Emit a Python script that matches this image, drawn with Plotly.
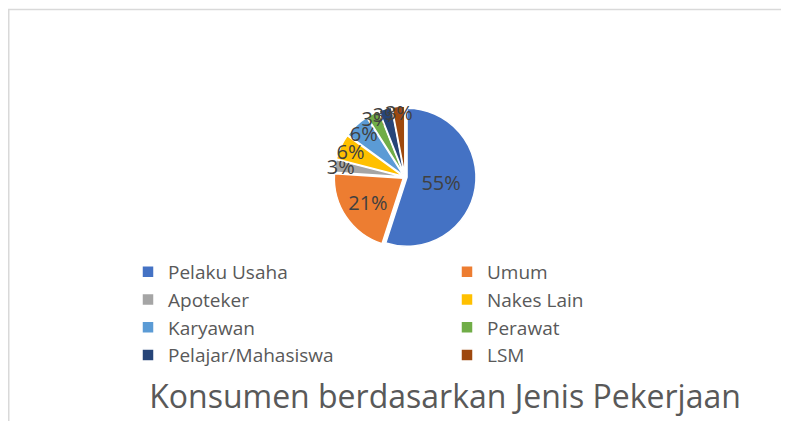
import plotly.graph_objects as go

categories = ["Pelaku Usaha", "Umum", "Apoteker", "Nakes Lain", "Karyawan",
              "Perawat", "Pelajar/Mahasiswa", "LSM"]
values = [55, 21, 3, 6, 6, 3, 3, 3]
colors = ["#4472C4", "#ED7D31", "#A5A5A5", "#FFC000", "#5B9BD5",
          "#70AD47", "#264478", "#9E480E"]
title_text = "Konsumen berdasarkan Jenis Pekerjaan"

W, H = 789, 421
OFF = 8  # page body margin
cx, cy, r = 405 - OFF, 177 - OFF, 68
pull = 0.03
half = r * (1 + pull) + 1

fig = go.Figure(go.Pie(
    labels=categories,
    values=values,
    sort=False,
    direction="clockwise",
    rotation=0,
    pull=pull,
    marker=dict(colors=colors, line=dict(color="white", width=1.5)),
    textinfo="percent",
    textposition="inside",
    insidetextorientation="horizontal",
    textfont=dict(family="Open Sans", size=20, color="#404040"),
    domain=dict(x=[(cx - half) / W, (cx + half) / W],
                y=[(H - cy - half) / H, (H - cy + half) / H]),
    hoverinfo="label+percent",
))

fig.update_layout(
    width=W, height=H,
    margin=dict(l=0, r=0, t=0, b=0, autoexpand=False),
    paper_bgcolor="white",
    plot_bgcolor="white",
    font=dict(family="Open Sans", color="#595959"),
    uniformtext=dict(minsize=20, mode="show"),
    showlegend=True,
    legend=dict(
        orientation="h",
        x=120 / W, xanchor="left",
        y=(H - 245) / H, yanchor="top",
        entrywidth=274, entrywidthmode="pixels",
        font=dict(family="Open Sans", size=19, color="#595959"),
        traceorder="normal",
        tracegroupgap=0,
        bgcolor="rgba(0,0,0,0)",
        itemclick=False,
    ),
    title=dict(
        text=title_text,
        font=dict(family="Open Sans", size=32, color="#595959"),
        x=(445 - OFF) / W, xanchor="center", xref="paper",
        y=(H - (397 - OFF)) / H, yanchor="middle", yref="paper",
    ),
    shapes=[dict(
        type="rect", xref="paper", yref="paper",
        x0=0.75 / W, x1=1.05, y0=-0.05, y1=(H - 1.5) / H,
        line=dict(color="#D9D9D9", width=1.5),
        fillcolor="rgba(0,0,0,0)", layer="below",
    )],
)

fig.write_html("out.html")
